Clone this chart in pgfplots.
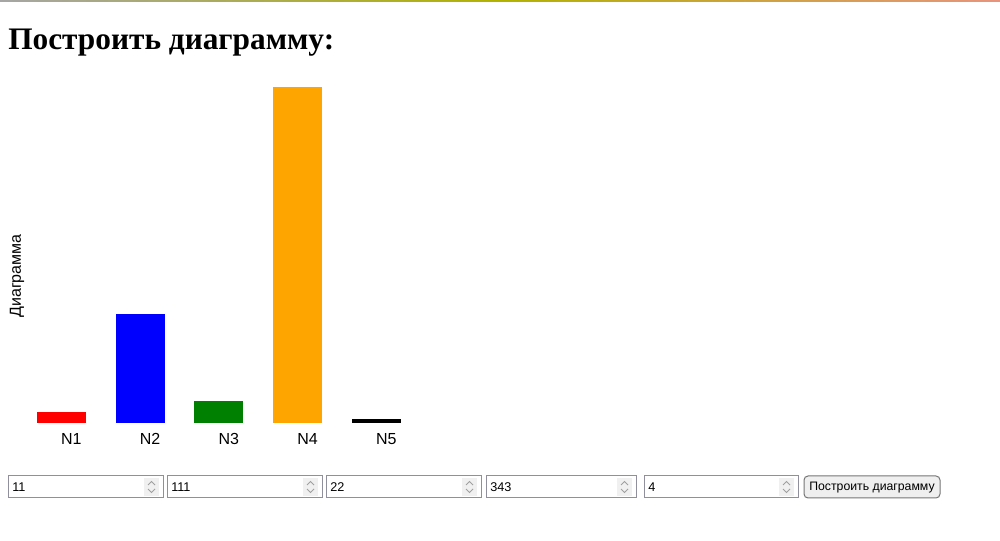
\documentclass[border=0pt]{standalone}
\usepackage{fontspec}
\setmainfont{Liberation Sans}
\newfontfamily\titlefont{Liberation Serif}
\usepackage{pgfplots}
\pgfplotsset{compat=1.18}
\definecolor{chartorange}{HTML}{FFA500}
\definecolor{chartgreen}{HTML}{008000}
\definecolor{boxborder}{HTML}{8F8F9D}
\definecolor{spinbg}{HTML}{F0F0F0}
\definecolor{spinfg}{HTML}{A0A0A0}
\definecolor{btnbg}{HTML}{EFEFEF}
\definecolor{btnborder}{HTML}{767676}
\begin{document}
\begin{tikzpicture}
\begin{scope}[x=0.75pt,y=-0.75pt]
\path[use as bounding box,fill=white] (0,0) rectangle (1000,541);
\shade[left color=gray!70, right color=red!40!brown!60, middle color=olive!60!yellow] (0,0) rectangle (1000,1.5);
\node[anchor=base west,inner sep=0pt,font=\titlefont\fontsize{23.5}{28}\selectfont\bfseries] at (8,50) {Построить диаграмму:};
\node[rotate=90,inner sep=0pt,font=\fontsize{12}{14}\selectfont] at (17,276) {Диаграмма};
% input boxes
\foreach \l/\r/\t in {8/163/11, 167/322/111, 326/481/22, 486/636/343, 644/798/4}{
  \draw[boxborder,line width=0.75pt] (\l,475.5) rectangle (\r,498);
  \fill[spinbg] (\r-19,478) rectangle (\r-4,496);
  \draw[spinfg,line width=0.6pt] (\r-15,485) -- (\r-11.5,481.5) -- (\r-8,485);
  \draw[spinfg,line width=0.6pt] (\r-15,489) -- (\r-11.5,492.5) -- (\r-8,489);
  \node[anchor=west,inner sep=0pt,font=\fontsize{9.5}{12}\selectfont] at (\l+4,487) {\t};
}
\draw[btnborder,fill=btnbg,line width=0.75pt,rounded corners=3pt] (804,476) rectangle (940,498);
\node[inner sep=0pt,font=\fontsize{9.2}{12}\selectfont] at (872,487.5) {Построить диаграмму};
\end{scope}
\begin{axis}[
  at={(16.5pt,-317.25pt)}, anchor=south west,
  scale only axis, width=295.3pt, height=252pt,
  xmin=-0.5, xmax=4.5, ymin=0, ymax=343,
  axis line style={draw=none}, tick style={draw=none},
  ytick=\empty, xtick={0,1,2,3,4},
  xticklabels={N1,N2,N3,N4,N5},
  xticklabel style={font=\fontsize{12}{14}\selectfont, xshift=7.5pt, yshift=-0.3pt},
  ybar, bar width=36.75pt, clip=false,
]
\addplot[fill=red, draw=none, bar shift=0pt] coordinates {(0,11)};
\addplot[fill=blue, draw=none, bar shift=0pt] coordinates {(1,111)};
\addplot[fill=chartgreen, draw=none, bar shift=0pt] coordinates {(2,22)};
\addplot[fill=chartorange, draw=none, bar shift=0pt] coordinates {(3,343)};
\addplot[fill=black, draw=none, bar shift=0pt] coordinates {(4,4)};
\end{axis}
\end{tikzpicture}
\end{document}
